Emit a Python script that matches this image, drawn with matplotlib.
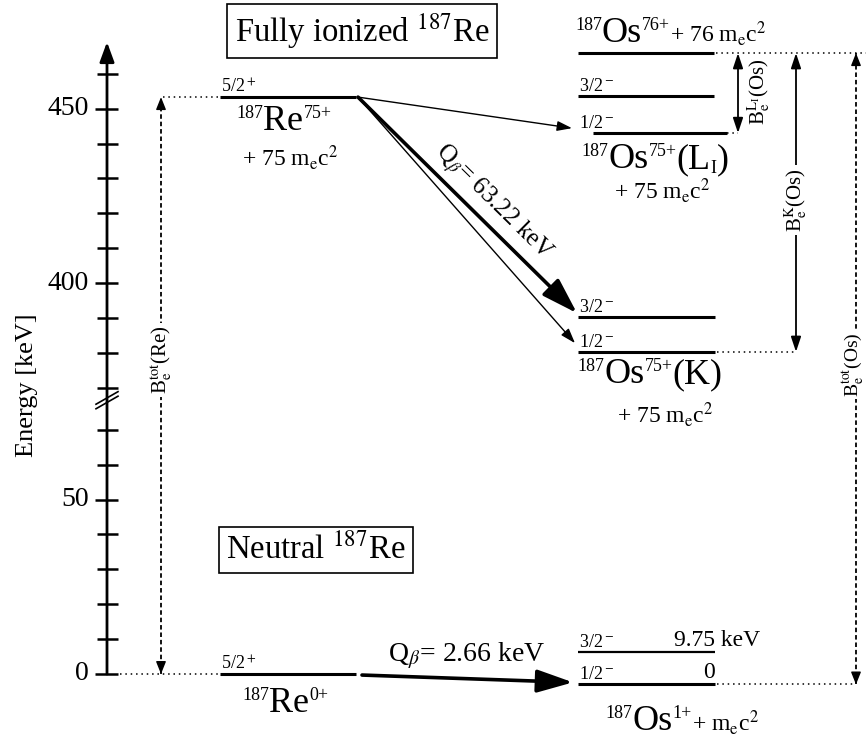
import numpy as np
import matplotlib.pyplot as plt

plt.rcParams['font.family'] = ['Liberation Serif', 'DejaVu Serif']
plt.rcParams['mathtext.fontset'] = 'stix'

# level energies [keV] (upper part is shifted by the axis break)
re_ion = 453.3            # 187Re75+ 5/2+
os_bare = 465.9           # 187Os76+ + 76 mec2
os_L1 = [443.0, 453.6]    # 1/2-, 3/2-
os_K = [380.3, 390.3]     # 1/2-, 3/2-
re_neutral = 0.0          # 187Re0+ 5/2+
os_neutral = [-3.0, 6.4]  # 1/2-, 3/2-

lower_ticks = [0, 10, 20, 30, 40, 50, 60, 70]
upper_ticks = [370, 380, 390, 400, 410, 420, 430, 440, 450, 460]
labeled_ticks = [0, 50, 400, 450]

q_ion = "63.22"
q_neutral = "2.66"
exc_energy = "9.75"

SHIFT = 288    # keV removed by the axis break
S = 3.49       # pixels per keV


def pos(e):
    return e - SHIFT if e > 200 else e


def py(ypix):
    # pixel row -> plot coordinate (for text placement)
    return (674 - ypix) / S


fig = plt.figure(figsize=(8.66, 7.40), dpi=100)
ax = fig.add_axes([0, 0, 1, 1])
ax.set_xlim(0, 866)
ax.set_ylim(py(740), py(0))
ax.axis('off')
rend = fig.canvas.get_renderer()

K = 'black'


def rich(x, y, parts, ha='left'):
    # parts: (string, fontsize, raise in px); drawn side by side on one baseline
    arts, cx = [], x
    for s, fs, rz in parts:
        t = ax.text(cx, y + rz / S, s, fontsize=fs, ha='left', va='baseline')
        cx += t.get_window_extent(rend).width
        arts.append(t)
    if ha == 'center':
        for t in arts:
            t.set_x(t.get_position()[0] - (cx - x) / 2)


# energy axis
ax.annotate('', xy=(107, py(42)), xytext=(107, 0),
            arrowprops=dict(arrowstyle='-|>,head_length=0.6,head_width=0.22',
                            lw=2, color=K, shrinkA=0, shrinkB=0, mutation_scale=20))
for t in lower_ticks + upper_ticks:
    x0 = 95 if t in labeled_ticks else 97
    ax.plot([x0, 118], [pos(t)] * 2, color=K, lw=1.8, solid_capstyle='butt')
    if t in labeled_ticks:
        ax.text(89, pos(t), str(t), ha='right', va='center', fontsize=20)
# break marks
for d in [0, 1.3]:
    ax.plot([96, 118], [76.0 + d, 79.6 + d], color=K, lw=1.2)
ax.text(27, py(385), 'Energy [keV]', rotation=90, ha='center', va='center', fontsize=19)

# level lines
def level(x0, x1, e, lw=2.2):
    ax.plot([x0, x1], [pos(e)] * 2, color=K, lw=lw, solid_capstyle='butt')


level(220, 356, re_ion)
level(220, 356, re_neutral)
level(578, 714, os_bare)
level(578, 714, os_L1[1])
level(593, 727, os_L1[0])
level(578, 715, os_K[1])
level(578, 715, os_K[0])
level(578, 715, os_neutral[1], lw=1.6)
level(578, 715, os_neutral[0])

dot = dict(color=K, lw=1.1, ls=(0, (1, 2.5)))
ax.plot([163, 218], [pos(re_ion)] * 2, **dot)
ax.plot([120, 218], [pos(re_neutral)] * 2, **dot)
ax.plot([716, 866], [pos(os_bare)] * 2, **dot)
ax.plot([727, 738], [pos(os_L1[0])] * 2, **dot)
ax.plot([717, 796], [pos(os_K[0])] * 2, **dot)
ax.plot([717, 856], [pos(os_neutral[0])] * 2, **dot)


# dashed double arrows
def dashed_span(x, e0, e1):
    ax.plot([x, x], [pos(e0), pos(e1)], color=K, lw=1.3, ls=(0, (2.5, 1.6)))
    for a, b in [(e1, e0), (e0, e1)]:
        d = 1 if pos(b) > pos(a) else -1
        ax.annotate('', xy=(x, pos(b)), xytext=(x, pos(b) - 3 * d),
                    arrowprops=dict(arrowstyle='-|>,head_length=0.5,head_width=0.2',
                                    color=K, lw=1, shrinkA=0, shrinkB=0, mutation_scale=15))


def solid_span(x, e0, e1):
    ax.annotate('', xy=(x, pos(e1)), xytext=(x, pos(e0)),
                arrowprops=dict(arrowstyle='<|-|>,head_length=0.6,head_width=0.2',
                                color=K, lw=1.3, shrinkA=0, shrinkB=0, mutation_scale=15))


dashed_span(161, re_neutral, re_ion)
dashed_span(856, os_neutral[0], os_bare)
solid_span(738, os_L1[0], os_bare)
solid_span(796, os_K[0], os_bare)

wbox = dict(facecolor='white', edgecolor='none', pad=2)
ax.text(161, py(360), r'B$_\mathrm{e}^\mathrm{tot}$(Re)', rotation=90,
        ha='center', va='center', fontsize=15, bbox=wbox)
ax.text(854, py(365), r'B$_\mathrm{e}^\mathrm{tot}$(Os)', rotation=90,
        ha='center', va='center', fontsize=14, bbox=dict(facecolor='white', edgecolor='none', pad=1))
ax.text(796, py(200), r'B$_\mathrm{e}^\mathrm{K}$(Os)', rotation=90,
        ha='center', va='center', fontsize=15, bbox=wbox)
ax.text(759, py(92), r'B$_\mathrm{e}^{\mathrm{L_I}}$(Os)', rotation=90,
        ha='center', va='center', fontsize=15)

# decay arrows
thin = dict(arrowstyle='-|>,head_length=0.6,head_width=0.2', color=K, lw=1,
            shrinkA=0, shrinkB=0, mutation_scale=15)
thick = dict(arrowstyle='-|>,head_length=1.1,head_width=0.35', color=K, lw=2.6,
             shrinkA=0, shrinkB=0, mutation_scale=20)
ax.annotate('', xy=(572, pos(os_L1[0]) + 1.4), xytext=(358, pos(re_ion)), arrowprops=thin)
ax.annotate('', xy=(577, pos(os_K[1]) + 1.1), xytext=(358, pos(re_ion)), arrowprops=thick)
ax.annotate('', xy=(575, pos(os_K[0]) + 2.5), xytext=(358, pos(re_ion)), arrowprops=thin)
ax.annotate('', xy=(573, pos(os_neutral[0]) + 0.6), xytext=(362, pos(re_neutral) - 0.3),
            arrowprops=thick)

ax.text(493, py(203), r'Q$_\beta$= ' + q_ion + ' keV', rotation=-44.6,
        rotation_mode='anchor', ha='center', va='center', fontsize=18)
ax.text(467, py(656), r'Q$_\beta$= ' + q_neutral + ' keV', ha='center', va='center',
        fontsize=20)

# boxes
box = dict(facecolor='white', edgecolor=K, lw=1.2, boxstyle='square,pad=0.22')
ax.text(362, py(31), r'Fully ionized $^{187}$Re', ha='center', va='center',
        fontsize=23.5, bbox=box)
ax.text(316, py(550), r'Neutral $^{187}$Re', ha='center', va='center',
        fontsize=23.5, bbox=box)

# level labels
spin = dict(fontsize=13, ha='left', va='bottom')
ax.text(221, pos(re_ion) + 0.3, r'5/2$^+$', **spin)
ax.text(221, pos(re_neutral) + 0.3, r'5/2$^+$', **spin)
ax.text(579, pos(os_L1[1]) + 0.3, r'3/2$^-$', **spin)
ax.text(579, pos(os_L1[0]) + 0.3, r'1/2$^-$', **spin)
ax.text(579, pos(os_K[1]) + 0.3, r'3/2$^-$', **spin)
ax.text(579, pos(os_K[0]) + 0.3, r'1/2$^-$', **spin)
ax.text(579, pos(os_neutral[1]) + 0.3, r'3/2$^-$', **spin)
ax.text(579, pos(os_neutral[0]) + 0.3, r'1/2$^-$', **spin)
ax.text(715, pos(os_neutral[0]) + 0.3, '0', ha='right', va='bottom', fontsize=17)
ax.text(674, pos(os_neutral[1]) + 0.3, exc_energy + ' keV', ha='left', va='bottom',
        fontsize=17)

BIG, SM, UP = 26, 13, 12
mec = r'+ 75 m$_\mathrm{e}$c$^2$'
rich(284, pos(re_ion) - 33 / S,
     [('187', SM, UP), ('Re', BIG, 0), ('75+', SM, UP)], ha='center')
ax.text(290, pos(re_ion) - 60 / S, mec, ha='center', va='center', fontsize=17)
rich(285, pos(re_neutral) - 38 / S,
     [('187', SM, UP), ('Re', BIG, 0), ('0+', SM, UP)], ha='center')

rich(575, pos(os_bare) + 11 / S,
     [('187', SM, UP), ('Os', BIG, 0), ('76+', SM, UP),
      (r'+ 76 m$_\mathrm{e}$c$^2$', 17, 0)])
rich(655, pos(os_L1[0]) - 35 / S,
     [('187', SM, UP), ('Os', BIG, 0), ('75+', SM, UP), ('(L', BIG, 0),
      ('I', SM, -5), (')', BIG, 0)], ha='center')
ax.text(662, pos(os_L1[0]) - 58 / S, mec, ha='center', va='center', fontsize=17)
rich(650, pos(os_K[0]) - 31 / S,
     [('187', SM, UP), ('Os', BIG, 0), ('75+', SM, UP), ('(K)', BIG, 0)], ha='center')
ax.text(665, pos(os_K[0]) - 63 / S, mec, ha='center', va='center', fontsize=17)
rich(682, pos(os_neutral[0]) - 46 / S,
     [('187', SM, UP), ('Os', BIG, 0), ('1+', SM, UP),
      (r'+ m$_\mathrm{e}$c$^2$', 17, 0)], ha='center')

fig.savefig('out.png', dpi=100)
